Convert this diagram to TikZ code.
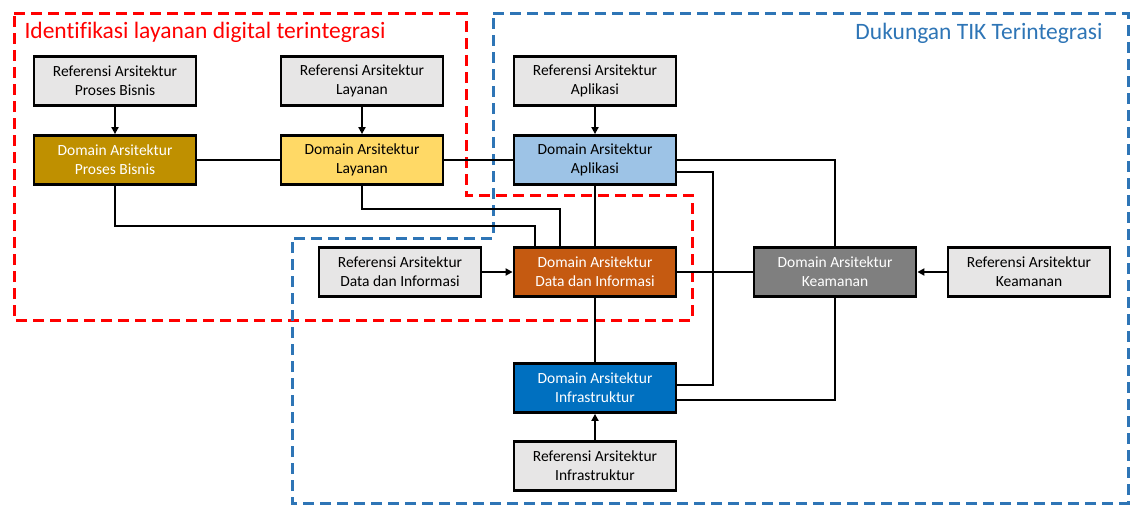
\documentclass[tikz,border=0pt]{standalone}
\usepackage{fontspec}
\setmainfont{Carlito}[Ligatures=NoCommon]
\usetikzlibrary{arrows.meta}
\definecolor{refgray}{HTML}{E7E6E6}
\definecolor{pbcol}{HTML}{BF9000}
\definecolor{laycol}{HTML}{FFD966}
\definecolor{aplcol}{HTML}{9DC3E6}
\definecolor{datcol}{HTML}{C55A11}
\definecolor{keacol}{HTML}{7F7F7F}
\definecolor{infcol}{HTML}{0070C0}
\definecolor{tikblue}{HTML}{2E75B6}
\definecolor{idred}{HTML}{FF0000}
\tikzset{
  box/.style={draw=black, line width=2.8pt, minimum width=162pt, minimum height=49pt, align=center, font=\fontsize{15.5}{19}\selectfont, inner sep=2pt},
  refbox/.style={box, fill=refgray, text=black},
  conn/.style={draw=black, line width=2.3pt},
  arr/.style={conn, -{Triangle[length=7pt,width=7pt]}},
  reddash/.style={draw=idred, line width=3pt, dash pattern=on 11pt off 6pt},
  bluedash/.style={draw=tikblue, line width=3pt, dash pattern=on 11pt off 6pt},
}
\begin{document}
\begin{tikzpicture}[x=1pt,y=-1pt]
\useasboundingbox (0,0) rectangle (1140,527);

% dashed regions
\draw[reddash] (14,14) -- (466,14) -- (466,195) -- (692,195) -- (692,320) -- (14,320) -- cycle;
\draw[bluedash] (493,14) -- (1128,14) -- (1128,503) -- (292,503) -- (292,238) -- (493,238) -- cycle;

\node[text=idred, anchor=west, font=\fontsize{23.5}{28}\selectfont] (t1) at (21,32) {Identifikasi layanan digital terintegrasi};
\node[text=tikblue, anchor=east, font=\fontsize{23.5}{28}\selectfont] (t2) at (1106,33) {Dukungan TIK Terintegrasi};

% nodes
\node[refbox] (refPB) at (115,81) {Referensi Arsitektur\\Proses Bisnis};
\node[refbox] (refLay) at (362,81) {Referensi Arsitektur\\Layanan};
\node[refbox] (refApl) at (595,81) {Referensi Arsitektur\\Aplikasi};
\node[box, fill=pbcol, text=white] (domPB) at (115,160) {Domain Arsitektur\\Proses Bisnis};
\node[box, fill=laycol, text=black] (domLay) at (362,160) {Domain Arsitektur\\Layanan};
\node[box, fill=aplcol, text=black] (domApl) at (595,160) {Domain Arsitektur\\Aplikasi};
\node[refbox] (refData) at (400,272) {Referensi Arsitektur\\Data dan Informasi};
\node[box, fill=datcol, text=white] (domData) at (595,272) {Domain Arsitektur\\Data dan Informasi};
\node[box, fill=keacol, text=white] (domKeam) at (835,272) {Domain Arsitektur\\Keamanan};
\node[refbox] (refKeam) at (1029,272) {Referensi Arsitektur\\Keamanan};
\node[box, fill=infcol, text=white] (domInfra) at (595,388) {Domain Arsitektur\\Infrastruktur};
\node[refbox] (refInfra) at (595,466) {Referensi Arsitektur\\Infrastruktur};

% junction coordinates
\coordinate (j1) at (535,226);
\coordinate (j2) at (560,209);
\coordinate (j3) at (713,172);
\coordinate (j4) at (713,385);
\coordinate (j5) at (835,400);

% connectors
\draw[conn] (domPB) -- (domLay);
\draw[conn] (domLay) -- (domApl);
\draw[conn] (domPB.south) |- (j1) -- (j1 |- domData.north);
\draw[conn] (domLay.south) |- (j2) -- (j2 |- domData.north);
\draw[conn] (domApl) -- (domData);
\draw[conn] (domData) -- (domKeam);
\draw[conn] (domData) -- (domInfra);
\draw[conn] (domApl.east) -| (domKeam.north);
\draw[conn] (domApl.east |- j3) -- (j3) -- (j4) -- (domInfra.east |- j4);
\draw[conn] (domKeam.south) -- (j5) -- (domInfra.east |- j5);

% arrows
\draw[arr] (refPB) -- (domPB);
\draw[arr] (refLay) -- (domLay);
\draw[arr] (refApl) -- (domApl);
\draw[arr] (refData) -- (domData);
\draw[arr] (refKeam) -- (domKeam);
\draw[arr] (refInfra) -- (domInfra);
\end{tikzpicture}
\end{document}
